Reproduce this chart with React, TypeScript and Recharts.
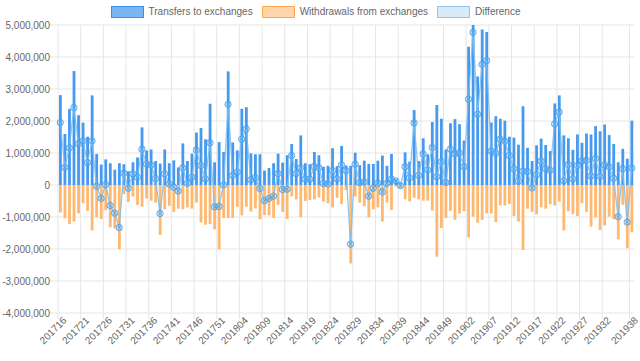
import { Bar, CartesianGrid, ComposedChart, Line, XAxis, YAxis } from "recharts";

const weeks = [
  "201716", "201717", "201718", "201719", "201720", "201721", "201722", "201723", "201724", "201725",
  "201726", "201727", "201728", "201729", "201730", "201731", "201732", "201733", "201734", "201735",
  "201736", "201737", "201738", "201739", "201740", "201741", "201742", "201743", "201744", "201745",
  "201746", "201747", "201748", "201749", "201750", "201751", "201752",
  "201801", "201802", "201803", "201804", "201805", "201806", "201807", "201808", "201809", "201810",
  "201811", "201812", "201813", "201814", "201815", "201816", "201817", "201818", "201819", "201820",
  "201821", "201822", "201823", "201824", "201825", "201826", "201827", "201828", "201829", "201830",
  "201831", "201832", "201833", "201834", "201835", "201836", "201837", "201838", "201839", "201840",
  "201841", "201842", "201843", "201844", "201845", "201846", "201847", "201848", "201849", "201850",
  "201851", "201852",
  "201901", "201902", "201903", "201904", "201905", "201906", "201907", "201908", "201909", "201910",
  "201911", "201912", "201913", "201914", "201915", "201916", "201917", "201918", "201919", "201920",
  "201921", "201922", "201923", "201924", "201925", "201926", "201927", "201928", "201929", "201930",
  "201931", "201932", "201933", "201934", "201935", "201936", "201937", "201938",
];

// millions
const transfers = [
  2.81, 1.59, 2.38, 3.56, 2.18, 1.95, 1.51, 2.8, 0.97, 0.64,
  0.8, 0.68, 0.48, 0.68, 0.65, 0.43, 0.71, 0.86, 1.8, 1.08,
  1.11, 0.75, 0.67, 1.11, 0.68, 0.77, 0.55, 1.3, 0.75, 0.98,
  1.64, 1.78, 1.43, 2.54, 0.71, 1.34, 1.03, 3.55, 1.33, 1.08,
  2.38, 2.43, 0.99, 0.96, 0.96, 0.45, 0.53, 0.68, 0.98, 0.7,
  0.93, 1.28, 0.81, 1.55, 0.68, 0.65, 1.03, 0.93, 0.57, 0.6,
  1.15, 0.59, 1.22, 0.61, 0.6, 1.01, 0.62, 0.76, 0.66, 0.66,
  0.76, 0.92, 0.6, 0.97, 0.18, 0.08, 1.02, 0.73, 2.34, 0.75,
  1.46, 0.96, 1.97, 2.5, 2.07, 1.11, 1.93, 2.06, 1.9, 1.39,
  4.32, 5.76, 3.39, 4.86, 4.78, 1.95, 2.15, 2.07, 2.01, 1.51,
  1.48, 1.26, 2.46, 1.16, 0.75, 1.24, 1.45, 1.25, 1.06, 2.55,
  2.8, 1.55, 1.46, 1.1, 1.58, 1.32, 1.61, 1.58, 1.84, 1.68,
  1.89, 1.56, 1.28, 0.71, 1.13, 0.82, 2.01,
];

const withdrawals = [
  -0.86, -1.04, -1.22, -1.14, -0.89, -0.57, -0.81, -1.42, -1.01, -1.06,
  -0.79, -1.32, -1.36, -2.01, -0.28, -0.53, -0.36, -0.62, -0.68, -0.42,
  -0.49, -0.55, -1.56, -0.76, -0.65, -0.84, -0.74, -0.76, -0.7, -0.74,
  -0.55, -1.17, -1.24, -1.22, -1.39, -2.01, -1.03, -1.03, -1.03, -0.68,
  -0.95, -0.68, -0.83, -0.73, -1.07, -0.94, -0.95, -1.03, -0.62, -0.84,
  -1.06, -0.36, -0.45, -1.01, -0.5, -0.47, -0.45, -0.39, -0.52, -0.57,
  -0.7, -0.4, -0.59, -0.16, -2.45, -0.36, -0.55, -0.66, -1.01, -0.76,
  -0.7, -1.14, -0.55, -0.78, -0.05, -0.1, -0.45, -0.51, -0.4, -0.45,
  -0.49, -0.49, -0.8, -2.24, -1.34, -1.03, -0.81, -1.09, -0.89, -0.82,
  -1.64, -0.99, -1.18, -1.09, -0.89, -0.89, -1.16, -0.64, -0.64, -0.59,
  -0.97, -1.14, -2.03, -0.74, -0.84, -0.92, -0.7, -0.74, -0.6, -0.64,
  -0.52, -1.42, -0.82, -0.91, -0.97, -0.57, -0.84, -1.3, -1.01, -1.41,
  -1.26, -0.99, -1.07, -1.7, -0.62, -1.98, -1.48,
];

const difference = [
  1.95, 0.55, 1.16, 2.42, 1.29, 1.38, 0.7, 1.38, -0.04, -0.42,
  0.01, -0.64, -0.88, -1.33, 0.37, -0.1, 0.35, 0.24, 1.12, 0.66,
  0.62, 0.2, -0.89, 0.35, 0.03, -0.07, -0.19, 0.54, 0.05, 0.24,
  1.09, 0.61, 0.19, 1.32, -0.68, -0.67, 0.0, 2.52, 0.3, 0.4,
  1.43, 1.75, 0.16, 0.23, -0.11, -0.49, -0.42, -0.35, 0.36, -0.14,
  -0.13, 0.92, 0.36, 0.54, 0.18, 0.18, 0.58, 0.54, 0.05, 0.03,
  0.45, 0.19, 0.63, 0.45, -1.85, 0.65, 0.07, 0.1, -0.35, -0.1,
  0.06, -0.22, 0.05, 0.19, 0.13, -0.02, 0.57, 0.22, 1.94, 0.3,
  0.97, 0.47, 1.17, 0.26, 0.73, 0.08, 1.12, 0.97, 1.01, 0.57,
  2.68, 4.77, 2.21, 3.77, 3.89, 1.06, 0.99, 1.43, 1.37, 0.92,
  0.51, 0.12, 0.43, 0.42, -0.09, 0.32, 0.75, 0.51, 0.46, 1.91,
  2.28, 0.13, 0.64, 0.19, 0.61, 0.75, 0.77, 0.28, 0.83, 0.27,
  0.63, 0.57, 0.21, -0.99, 0.51, -1.16, 0.53,
];

const xTicks = [
  "201716", "201721", "201726", "201731", "201736", "201741", "201746", "201751", "201804", "201809",
  "201814", "201819", "201824", "201829", "201834", "201839", "201844", "201849", "201902", "201907",
  "201912", "201917", "201922", "201927", "201932", "201938",
];
const yTicks = [-4000000, -3000000, -2000000, -1000000, 0, 1000000, 2000000, 3000000, 4000000, 5000000];

const data = weeks.map((week, i) => ({
  week,
  transfers: Math.round(transfers[i] * 1e6),
  withdrawals: Math.round(withdrawals[i] * 1e6),
  difference: Math.round(difference[i] * 1e6),
}));

const FONT = "'Liberation Sans', Arial, Helvetica, sans-serif";
const GRID = "#e6e6e6";

const legendItems = [
  { label: "Transfers to exchanges", fill: "#7ab6f3", border: "#3b8fe8" },
  { label: "Withdrawals from exchanges", fill: "#ffd5ab", border: "#ffa64d" },
  { label: "Difference", fill: "#d7ebfb", border: "#8ec5f0" },
];

function WeekTick(props: any) {
  const { x, y, payload } = props;
  const edge = x - (payload.offset || 0);
  return (
    <g>
      <line x1={edge} y1={313} x2={edge} y2={319} stroke={GRID} />
      <g transform={`translate(${x + 2},${y})`}>
        <text textAnchor="end" dy="0.71em" transform="rotate(-45)" fontSize={10} fill="#666" fontFamily={FONT}>
          {payload.value}
        </text>
      </g>
    </g>
  );
}

function DiffDot(props: any) {
  const { cx, cy, index } = props;
  if (cx == null || cy == null) return null;
  const d = 1.8;
  return (
    <g key={`dot-${index}`}>
      <circle cx={cx} cy={cy} r={3.2} fill="rgba(120,190,240,0.4)" stroke="rgba(54,150,235,0.7)" strokeWidth={1} />
      <path
        d={`M${cx - d} ${cy - d}L${cx + d} ${cy + d}M${cx - d} ${cy + d}L${cx + d} ${cy - d}`}
        stroke="rgba(54,150,235,0.7)"
        strokeWidth={0.8}
      />
    </g>
  );
}

export default function App() {
  const tickIdx = xTicks.map((t) => weeks.indexOf(t));
  return (
    <div style={{ position: "absolute", left: 0, top: 0, width: 640, height: 361, background: "#fff", fontFamily: FONT }}>
      <div
        style={{
          position: "absolute",
          top: 6,
          left: 0,
          width: 640,
          display: "flex",
          justifyContent: "center",
          alignItems: "center",
          fontSize: 10,
          color: "#666",
          lineHeight: "12px",
        }}
      >
        {legendItems.map((it) => (
          <div key={it.label} style={{ display: "flex", alignItems: "center", marginRight: 9 }}>
            <span
              style={{
                display: "inline-block",
                width: 31,
                height: 10,
                background: it.fill,
                border: `1px solid ${it.border}`,
                marginRight: 5,
              }}
            />
            <span>{it.label}</span>
          </div>
        ))}
      </div>
      <ComposedChart
        width={640}
        height={361}
        data={data}
        stackOffset="sign"
        margin={{ top: 25, right: 6, bottom: 0, left: 0 }}
      >
        <CartesianGrid
          stroke={GRID}
          verticalCoordinatesGenerator={({ offset }: any) =>
            tickIdx.map((i) => offset.left + (offset.width * i) / weeks.length)
          }
        />
        <XAxis
          dataKey="week"
          ticks={xTicks}
          interval={0}
          height={48}
          tickSize={0}
          tickMargin={3}
          axisLine={false}
          tickLine={false}
          tick={<WeekTick />}
        />
        <YAxis
          type="number"
          domain={[-4000000, 5000000]}
          ticks={yTicks}
          interval={0}
          allowDataOverflow
          width={58}
          tickSize={8}
          tickMargin={0}
          axisLine={false}
          tickLine={{ stroke: GRID }}
          tick={{ fontSize: 10, fill: "#666", fontFamily: FONT }}
          tickFormatter={(v: number) => v.toLocaleString("en-US")}
        />
        <Bar dataKey="transfers" stackId="flow" barSize={2.8} fill="#4599ef" isAnimationActive={false} />
        <Bar dataKey="withdrawals" stackId="flow" barSize={2.8} fill="#ffb86f" isAnimationActive={false} />
        <Line
          type="linear"
          dataKey="difference"
          stroke="rgba(120,190,240,0.85)"
          strokeWidth={1.3}
          dot={<DiffDot />}
          activeDot={false}
          isAnimationActive={false}
        />
      </ComposedChart>
    </div>
  );
}
